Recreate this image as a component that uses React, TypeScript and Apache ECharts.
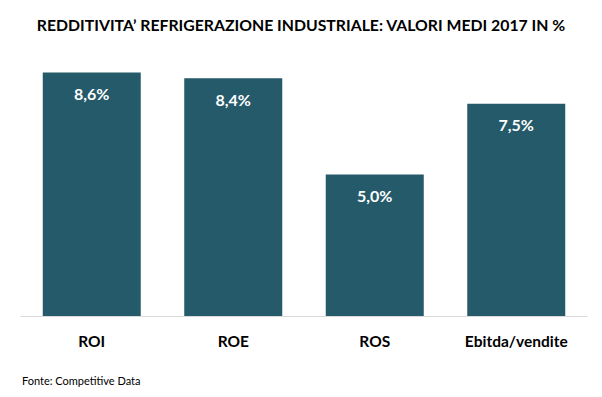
import React, { useEffect, useRef } from "react";
import * as echarts from "echarts";

const categories = ["ROI", "ROE", "ROS", "Ebitda/vendite"];
const values = [8.6, 8.4, 5.0, 7.5];
const title = "REDDITIVITA’ REFRIGERAZIONE INDUSTRIALE: VALORI MEDI 2017 IN %";
const source = "Fonte: Competitive Data";

export default function App() {
  const ref = useRef<HTMLDivElement>(null);
  useEffect(() => {
    const chart = echarts.init(ref.current!, null, { renderer: "svg" });
    chart.setOption({
      animation: false,
      backgroundColor: "#ffffff",
      title: {
        text: title,
        left: "center",
        top: 11,
        textStyle: { fontFamily: "Lato", fontWeight: "bold", fontSize: 15.8, color: "#000" },
      },
      graphic: [
        {
          type: "text",
          left: 22,
          top: 375,
          style: { text: source, fontFamily: "Lato", fontSize: 11, fill: "#000" },
        },
      ],
      grid: { left: 21, right: 15, top: 33, bottom: 81 },
      xAxis: {
        type: "category",
        data: categories,
        axisTick: { show: false },
        axisLine: { lineStyle: { color: "#d9d9d9", width: 1 } },
        axisLabel: { margin: 17, fontFamily: "Lato", fontWeight: "bold", fontSize: 15.5, color: "#000" },
      },
      yAxis: { type: "value", min: 0, max: 10, show: false, splitLine: { show: false } },
      series: [
        {
          type: "bar",
          data: values,
          barWidth: 98,
          itemStyle: { color: "#245a69" },
          label: {
            show: true,
            position: "insideTop",
            distance: 13,
            formatter: (p: any) => p.value.toFixed(1).replace(".", ",") + "%",
            color: "#fff",
            fontFamily: "Lato",
            fontWeight: "bold",
            fontSize: 16,
          },
        },
      ],
    });
    return () => chart.dispose();
  }, []);
  return <div ref={ref} style={{ width: 602, height: 397, position: "absolute", left: 0, top: 0 }} />;
}
